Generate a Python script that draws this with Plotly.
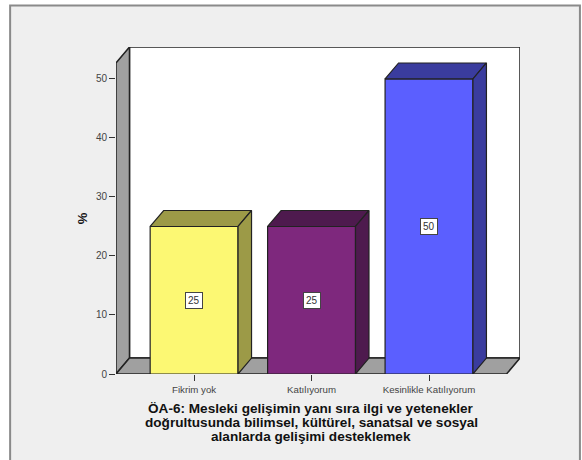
import plotly.graph_objects as go

categories = ["Fikrim yok", "Katılıyorum", "Kesinlikle Katılıyorum"]
percent = [25, 25, 50]
y_ticks = [0, 10, 20, 30, 40, 50]
front_colors = ["#FCF873", "#7E287D", "#5B5FFF"]
shade_colors = ["#9C9A47", "#4E1A4E", "#3A3C9E"]
title_lines = ["ÖA-6: Mesleki gelişimin yanı sıra ilgi ve yetenekler",
               "doğrultusunda bilimsel, kültürel, sanatsal ve sosyal",
               "alanlarda gelişimi desteklemek"]

W, H = 582, 460
L, R, T, B = 115.5, 520.0, 46.5, 374.0
PX_X = 117.6
PX_Y = 5.91
X0 = 193.7
DX = 13.5 / PX_X
DY = 16.0 / PX_Y
BAR_W = 88 / PX_X
x_lo = (L - X0) / PX_X
x_hi = (R - X0) / PX_X
y_hi = (B - T) / PX_Y
EDGE = "#222222"
WALL = "#A0A0A0"


def px(x):
    return (x - L) / (R - L)


def py(y):
    return (B - y) / (B - T)


fig = go.Figure()
idx = list(range(len(categories)))
fig.add_trace(go.Bar(x=idx, y=percent, width=BAR_W, marker=dict(color=front_colors, line=dict(color=EDGE, width=1.2)), hoverinfo="skip"))
for i, v in enumerate(percent):
    a, b = i - BAR_W / 2, i + BAR_W / 2
    fig.add_trace(go.Scatter(x=[a, b, b + DX, a + DX, a], y=[v, v, v + DY, v + DY, v], mode="lines", fill="toself",
                             fillcolor=shade_colors[i], line=dict(color=EDGE, width=1.2), hoverinfo="skip"))
    fig.add_trace(go.Scatter(x=[b, b + DX, b + DX, b, b], y=[0, DY, v + DY, v, 0], mode="lines", fill="toself",
                             fillcolor=shade_colors[i], line=dict(color=EDGE, width=1.2), hoverinfo="skip"))

shapes = [
    dict(type="rect", xref="paper", yref="paper", x0=px(9.5), x1=px(580), y0=py(470), y1=py(5),
         fillcolor="#EFEFEF", line=dict(color="#8A8A8A", width=2), layer="below"),
]
fx = x_lo + DX
walls = [
    ([fx, x_hi, x_hi, fx], [DY, DY, y_hi, y_hi], "#FFFFFF"),
    ([x_lo, fx, fx, x_lo], [0, DY, y_hi, y_hi - DY], WALL),
    ([x_lo, x_hi - DX, x_hi, fx], [0, 0, DY, DY], WALL),
]
for xs, ys, c in walls:
    path = "M " + " L ".join(f"{a},{b}" for a, b in zip(xs, ys)) + " Z"
    shapes.append(dict(type="path", path=path, xref="x", yref="y", fillcolor=c, line=dict(color=EDGE, width=1.5), layer="below"))

annotations = [dict(x=i, y=v / 2, text=str(v), showarrow=False, xref="x", yref="y",
                    bgcolor="white", bordercolor="#444444", borderwidth=1, borderpad=2,
                    font=dict(family="Liberation Sans", size=10, color="#333333"))
               for i, v in enumerate(percent)]
for line, y in zip(title_lines, [409, 423, 437]):
    annotations.append(dict(x=px(311), y=py(y), xref="paper", yref="paper", text=f"<b>{line}</b>", showarrow=False,
                            xanchor="center", yanchor="middle",
                            font=dict(family="Liberation Sans", size=13.6, color="#111111")))
annotations.append(dict(x=px(72), y=py(218), xref="paper", yref="paper", text="<b>%</b>", showarrow=False, textangle=-90,
                        font=dict(family="Liberation Sans", size=13, color="#111111")))

fig.update_layout(
    width=W, height=H, autosize=False, showlegend=False, paper_bgcolor="white", plot_bgcolor="rgba(0,0,0,0)",
    margin=dict(l=L, r=W - R, t=T, b=H - B), shapes=shapes, annotations=annotations,
    xaxis=dict(range=[x_lo, x_hi], tickvals=idx, ticktext=categories, showgrid=False, zeroline=False, showline=False,
               ticks="outside", ticklen=6, tickcolor="#333333", tickfont=dict(family="Liberation Sans", size=9.7, color="#444444")),
    yaxis=dict(range=[0, y_hi], tickvals=y_ticks, showgrid=False, zeroline=False, showline=False,
               ticks="outside", ticklen=6, tickcolor="#333333", tickfont=dict(family="Liberation Sans", size=10, color="#444444")),
)
fig.write_html("out.html", config={"displayModeBar": False}, post_script="document.body.style.margin='0';")
